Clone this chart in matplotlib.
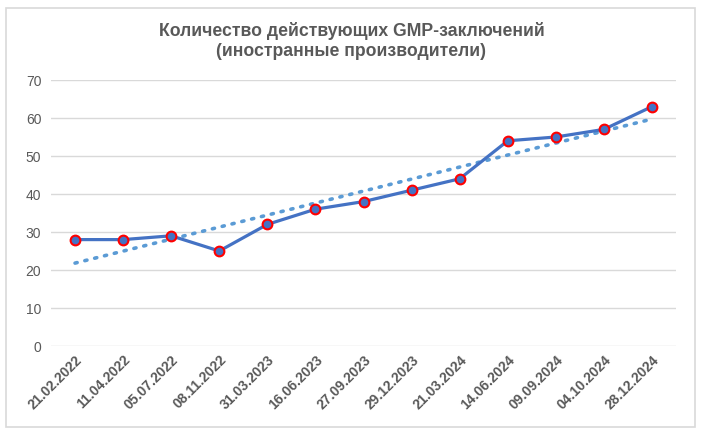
import matplotlib
matplotlib.use("Agg")
import matplotlib.pyplot as plt
import numpy as np
from matplotlib.patches import Rectangle

dates = ["21.02.2022", "11.04.2022", "05.07.2022", "08.11.2022", "31.03.2023",
         "16.06.2023", "27.09.2023", "29.12.2023", "21.03.2024", "14.06.2024",
         "09.09.2024", "04.10.2024", "28.12.2024"]
values = [28, 28, 29, 25, 32, 36, 38, 41, 44, 54, 55, 57, 63]
title = "Количество действующих GMP-заключений\n(иностранные производители)"

plt.rcParams['font.family'] = ['Liberation Sans', 'DejaVu Sans']

fig = plt.figure(figsize=(7.03, 4.36), dpi=100)
fig.patches.append(Rectangle((6/703, 1-427/436), 689/703, 419/436, transform=fig.transFigure,
                             fill=False, edgecolor='#D9D9D9', linewidth=1.2))
ax = fig.add_axes([51/703, 1-346/436, 625/703, 266/436])

x = np.arange(len(values))
coef = np.polyfit(x, values, 1)
trend = np.polyval(coef, x)
ax.plot(x, trend, linestyle=(0, (0.6, 2.2)), color='#5B9BD5', linewidth=2.6,
        dash_capstyle='round', zorder=2)
ax.plot(x, values, color='#4472C4', linewidth=2.3, marker='o', markersize=7,
        markerfacecolor='#4472C4', markeredgecolor='#FF0000', markeredgewidth=1.5, zorder=3)

ax.set_xlim(-0.5, len(values) - 0.5)
ax.set_ylim(0, 70)
ax.set_yticks(range(0, 71, 10))
ax.yaxis.grid(True, color='#D9D9D9', linewidth=1)
ax.set_axisbelow(True)
for s in ax.spines.values():
    s.set_visible(False)
ax.tick_params(axis='both', length=0, colors='#595959', labelsize=10)
ax.tick_params(axis='y', pad=7)
ax.set_xticks(x)
ax.set_xticklabels(dates, rotation=45, ha='right', rotation_mode='anchor',
                   fontweight='bold', color='#595959')
ax.tick_params(axis='x', pad=5)

fig.text(0.5, 1-41/436, title, ha='center', va='center', fontsize=12.7, fontweight='bold',
         color='#595959', linespacing=1.3)

fig.savefig("out.png", dpi=100)
